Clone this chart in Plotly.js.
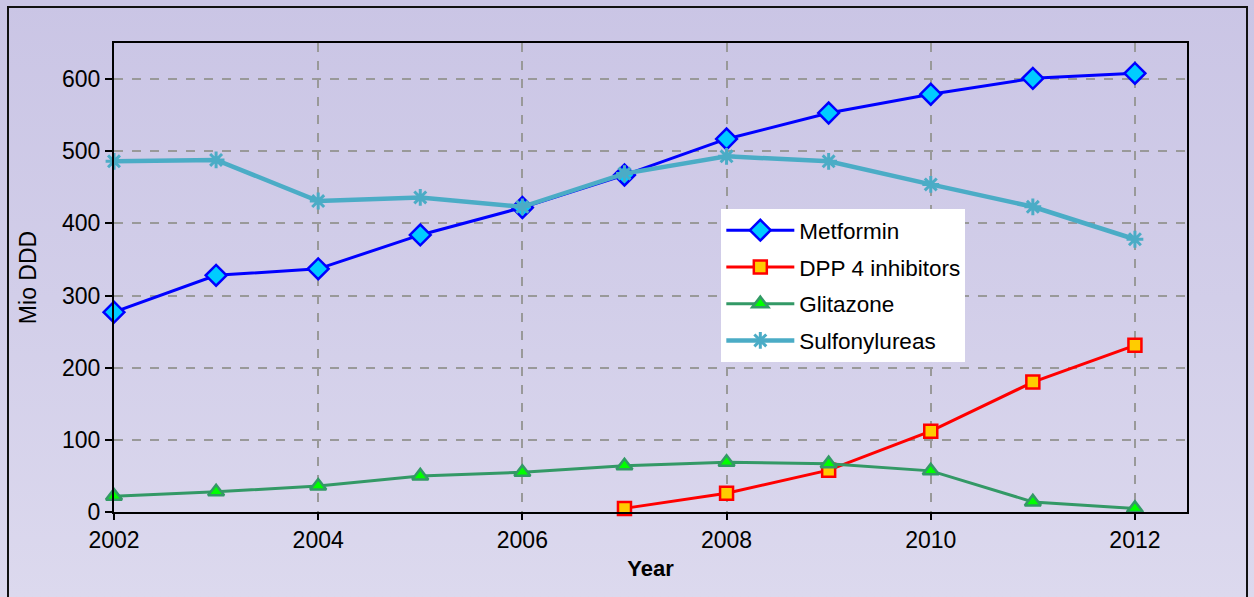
<!DOCTYPE html>
<html>
<head>
<meta charset="utf-8">
<script src="https://cdn.plot.ly/plotly-3.0.1.min.js"></script>
<style>
  html, body { margin:0; padding:0; width:1254px; height:597px; overflow:hidden; }
  body { background: linear-gradient(to bottom, #cac5e5 0%, #d2cee9 50%, #dcd9ee 100%); position:relative; }
  #frame { position:absolute; left:7px; top:6px; width:1241px; height:600px; border:2px solid #111; box-sizing:border-box; }
  #chart { position:absolute; left:0; top:0; width:1254px; height:597px; }
</style>
</head>
<body>
<div id="frame"></div>
<div id="chart"></div>
<script>
const years = [2002, 2003, 2004, 2005, 2006, 2007, 2008, 2009, 2010, 2011, 2012];
const metformin = [277, 328, 337, 384, 422, 467, 517, 553, 579, 601, 608];
const dppYears = [2007, 2008, 2009, 2010, 2011, 2012];
const dpp4 = [5, 26, 58, 112, 180, 231];
const glitazone = [22, 28, 36, 50, 55, 64, 69, 67, 57, 14, 5];
const sulfonylureas = [486, 488, 431, 436, 423, 469, 493, 486, 454, 423, 378];
const xTicks = [2002, 2004, 2006, 2008, 2010, 2012];
const yTicks = [0, 100, 200, 300, 400, 500, 600];

const FONT = 'Liberation Sans, Arial, sans-serif';

const traces = [
  { x: years, y: metformin, name: 'Metformin', mode: 'lines+markers', legendgroup: 'a', cliponaxis: false,
    line: { color: '#0000ff', width: 3 },
    marker: { symbol: 'diamond', size: 16, color: '#00ccff', line: { color: '#0000ff', width: 2.5 } } },
  { x: dppYears, y: dpp4, name: 'DPP 4 inhibitors', mode: 'lines+markers', legendgroup: 'b', cliponaxis: false,
    line: { color: '#ff0000', width: 3 },
    marker: { symbol: 'square', size: 13, color: '#ffcc00', line: { color: '#ff0000', width: 2.5 } } },
  { x: years, y: glitazone, name: 'Glitazone', mode: 'lines+markers', legendgroup: 'c', cliponaxis: false,
    line: { color: '#339966', width: 3 },
    marker: { symbol: 'triangle-up', size: 14, color: '#00ff00', line: { color: '#339966', width: 2.5 } } },
  { x: years, y: sulfonylureas, name: 'Sulfonylureas', mode: 'lines+markers', legendgroup: 'd', cliponaxis: false,
    line: { color: '#4bacc6', width: 4.5 },
    marker: { symbol: 'asterisk-open', size: 14, color: '#4bacc6', line: { color: '#4bacc6', width: 3 } } }
];

const layout = {
  width: 1254, height: 597,
  margin: { l: 114, r: 67, t: 43, b: 85 },
  paper_bgcolor: 'rgba(0,0,0,0)',
  plot_bgcolor: 'rgba(0,0,0,0)',
  font: { family: FONT, size: 22, color: '#000' },
  showlegend: true,
  legend: { x: 0.566, y: 0.646, xanchor: 'left', yanchor: 'top', bgcolor: '#ffffff',
    borderwidth: 0, font: { family: FONT, size: 22.5, color: '#000' }, tracegroupgap: 4.5, traceorder: 'grouped',
    itemwidth: 68 },
  xaxis: {
    range: [2002, 2012.51], tickvals: xTicks, ticktext: xTicks.map(String),
    tickfont: { family: FONT, size: 23, color: '#000' },
    showline: true, linecolor: '#000', linewidth: 2, mirror: true,
    ticks: 'outside', ticklen: 6, tickwidth: 2, tickcolor: '#000',
    showgrid: true, gridcolor: '#999999', griddash: 'dash', gridwidth: 2,
    zeroline: false,
    title: { text: '<b>Year</b>', font: { family: FONT, size: 22, color: '#000' }, standoff: 9 }
  },
  yaxis: {
    range: [0, 650], tickvals: yTicks, ticktext: yTicks.map(String),
    tickfont: { family: FONT, size: 23, color: '#000' },
    showline: true, linecolor: '#000', linewidth: 2, mirror: true,
    ticks: 'outside', ticklen: 7, tickwidth: 2, tickcolor: '#000',
    showgrid: true, gridcolor: '#999999', griddash: 'dash', gridwidth: 2,
    zeroline: false,
    title: { text: 'Mio DDD', font: { family: FONT, size: 23, color: '#000' }, standoff: 19 }
  }
};

Plotly.newPlot('chart', traces, layout, { displayModeBar: false, staticPlot: true });
</script>
</body>
</html>
